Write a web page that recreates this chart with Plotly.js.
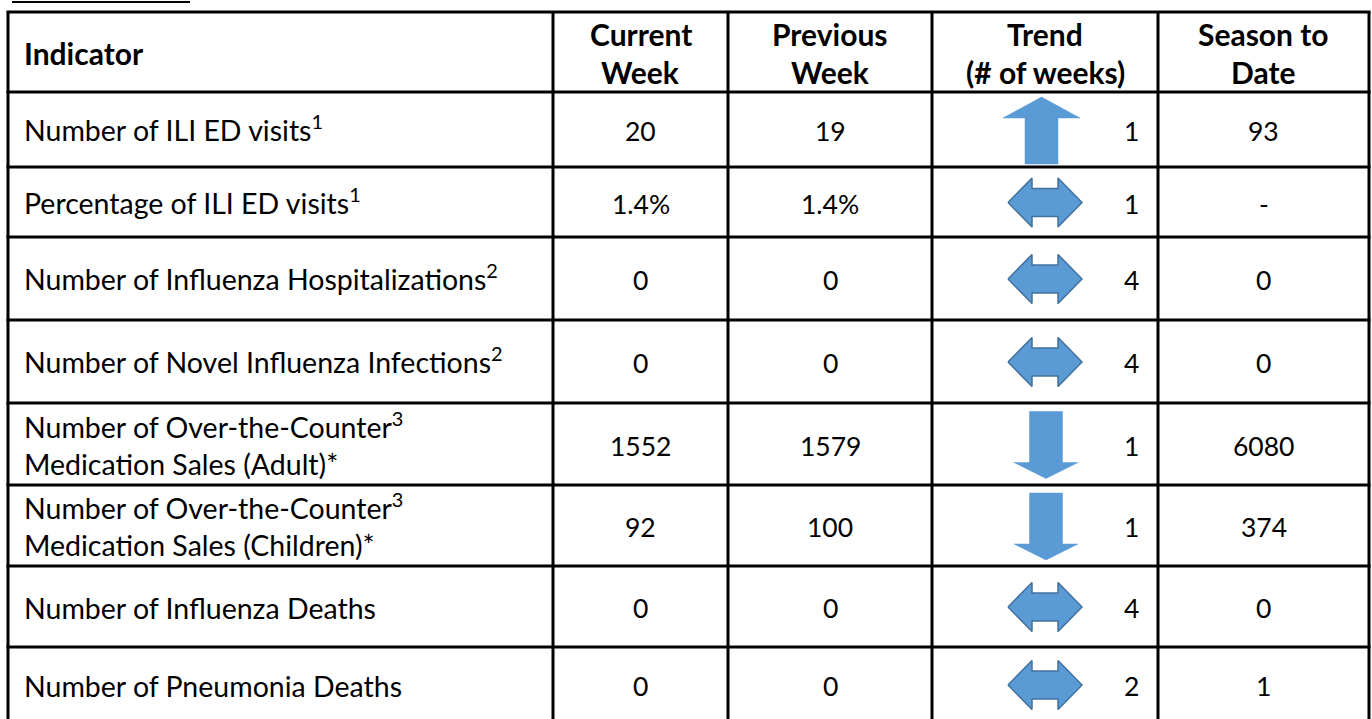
<!DOCTYPE html>
<html>
<head>
<meta charset="utf-8">
<script src="https://cdn.plot.ly/plotly-3.0.1.min.js"></script>
<style>html,body{margin:0;padding:0;background:#fff}</style>
</head>
<body>
<div id="graph" style="width:1372px;height:719px"></div>
<script>
// Table contents
const headers = ['Indicator', 'Current<br>Week', 'Previous<br>Week', 'Trend<br>(# of weeks)', 'Season to<br>Date'];
const indicators = [
  'Number of ILI ED visits<sup>1</sup>',
  'Percentage of ILI ED visits<sup>1</sup>',
  'Number of Influenza Hospitalizations<sup>2</sup>',
  'Number of Novel Influenza Infections<sup>2</sup>',
  'Number of Over-the-Counter<sup>3</sup><br>Medication Sales (Adult)*',
  'Number of Over-the-Counter<sup>3</sup><br>Medication Sales (Children)*',
  'Number of Influenza Deaths',
  'Number of Pneumonia Deaths'
];
const currentWeek = ['20', '1.4%', '0', '0', '1552', '92', '0', '0'];
const previousWeek = ['19', '1.4%', '0', '0', '1579', '100', '0', '0'];
const trendDirection = ['up', 'flat', 'flat', 'flat', 'down', 'down', 'flat', 'flat'];
const trendWeeks = [1, 1, 4, 4, 1, 1, 4, 2];
const seasonToDate = ['93', '-', '0', '0', '6080', '374', '0', '1'];

// Grid geometry (pixels, y grows downward)
const colEdges = [8, 553, 728, 932, 1158, 1369];
const rowEdges = [12, 92, 167, 237, 320, 403, 485, 566, 647, 722];
const FONT = 'Lato, "Open Sans", sans-serif';
const HEAD_SIZE = 30;
const TEXT_SIZE = 28.5;
const NUM_SIZE = 26.5;
const ARROW_FILL = '#5B9BD5';
const ARROW_EDGE = '#41719C';

const shapes = [];
const annotations = [];

// underline of the cut-off caption above the table
shapes.push({type: 'line', x0: 12, x1: 190, y0: 2, y1: 2, line: {color: '#000', width: 2}});

// grid lines
rowEdges.forEach(y => {
  shapes.push({type: 'line', x0: colEdges[0] - 1.5, x1: colEdges[colEdges.length - 1] + 1.5, y0: y, y1: y,
    line: {color: '#000', width: 3}});
});
colEdges.forEach(x => {
  shapes.push({type: 'line', x0: x, x1: x, y0: rowEdges[0], y1: 730, line: {color: '#000', width: 3}});
});

function colCenter(c) { return (colEdges[c] + colEdges[c + 1]) / 2; }
function rowCenter(r) { return (rowEdges[r] + rowEdges[r + 1]) / 2; }

// place a cell's text, one annotation per line so the line gap can be set
function addText(text, x, cy, xanchor, bold, gap, size) {
  const lines = text.split('<br>');
  lines.forEach((line, i) => {
    annotations.push({
      x: x, y: cy + (i - (lines.length - 1) / 2) * gap,
      xref: 'x', yref: 'y', xanchor: xanchor, yanchor: 'middle',
      // a superscript makes the box taller, pull it back up a little
      yshift: line.indexOf('<sup>') >= 0 ? 3 : 0,
      text: bold ? '<b>' + line + '</b>' : line,
      showarrow: false,
      font: {family: FONT, size: size, color: '#000'}
    });
  });
}

// header row
headers.forEach((h, c) => {
  const cy = rowCenter(0) + 1;
  if (c === 0) addText(h, colEdges[0] + 14, cy, 'left', true, 38, HEAD_SIZE);
  else addText(h, colCenter(c), cy, 'center', true, 38, HEAD_SIZE);
});

// body rows
indicators.forEach((name, i) => {
  const r = i + 1;
  const cy = rowCenter(r) + 1.5;
  addText(name, colEdges[0] + 14, cy, 'left', false, 36, TEXT_SIZE);
  addText(currentWeek[i], colCenter(1), cy, 'center', false, 36, NUM_SIZE);
  addText(previousWeek[i], colCenter(2), cy, 'center', false, 36, NUM_SIZE);
  addText(String(trendWeeks[i]), colEdges[4] - 17, cy, 'right', false, 36, NUM_SIZE);
  addText(seasonToDate[i], colCenter(4), cy, 'center', false, 36, NUM_SIZE);
});

// trend arrows as filled polygons
function arrowPoints(dir, cy) {
  let pts;
  if (dir === 'up') {
    const cx = 1041.5, top = cy - 33.5, bot = cy + 33.5;
    pts = [[cx, top], [cx + 38.5, top + 21], [cx + 16.5, top + 21], [cx + 16.5, bot],
           [cx - 16.5, bot], [cx - 16.5, top + 21], [cx - 38.5, top + 21]];
  } else if (dir === 'down') {
    const cx = 1046, top = cy - 33.5, bot = cy + 33.5;
    pts = [[cx - 16.5, top], [cx + 16.5, top], [cx + 16.5, bot - 16], [cx + 32, bot - 16],
           [cx, bot], [cx - 32, bot - 16], [cx - 16.5, bot - 16]];
  } else {
    const cx = 1045, hw = 37, hh = 24.5, sh = 14, head = 24;
    pts = [[cx - hw, cy], [cx - hw + head, cy - hh], [cx - hw + head, cy - sh], [cx + hw - head, cy - sh],
           [cx + hw - head, cy - hh], [cx + hw, cy], [cx + hw - head, cy + hh], [cx + hw - head, cy + sh],
           [cx - hw + head, cy + sh], [cx - hw + head, cy + hh]];
  }
  pts.push(pts[0]);
  return pts;
}

const traces = trendDirection.map((dir, i) => {
  const cy = rowCenter(i + 1) + (dir === 'flat' ? 0.5 : 1);
  const pts = arrowPoints(dir, cy);
  return {
    x: pts.map(p => p[0]),
    y: pts.map(p => p[1]),
    mode: 'lines',
    fill: 'toself',
    fillcolor: ARROW_FILL,
    line: {color: dir === 'flat' ? ARROW_EDGE : ARROW_FILL, width: dir === 'flat' ? 1.5 : 0.5},
    hoverinfo: 'skip',
    showlegend: false
  };
});

const layout = {
  width: 1372,
  height: 719,
  margin: {l: 0, r: 0, t: 0, b: 0},
  paper_bgcolor: '#fff',
  plot_bgcolor: '#fff',
  xaxis: {range: [0, 1372], visible: false, fixedrange: true},
  yaxis: {range: [719, 0], visible: false, fixedrange: true},
  shapes: shapes,
  annotations: annotations,
  showlegend: false
};

Plotly.newPlot('graph', traces, layout, {staticPlot: true});
</script>
</body>
</html>
